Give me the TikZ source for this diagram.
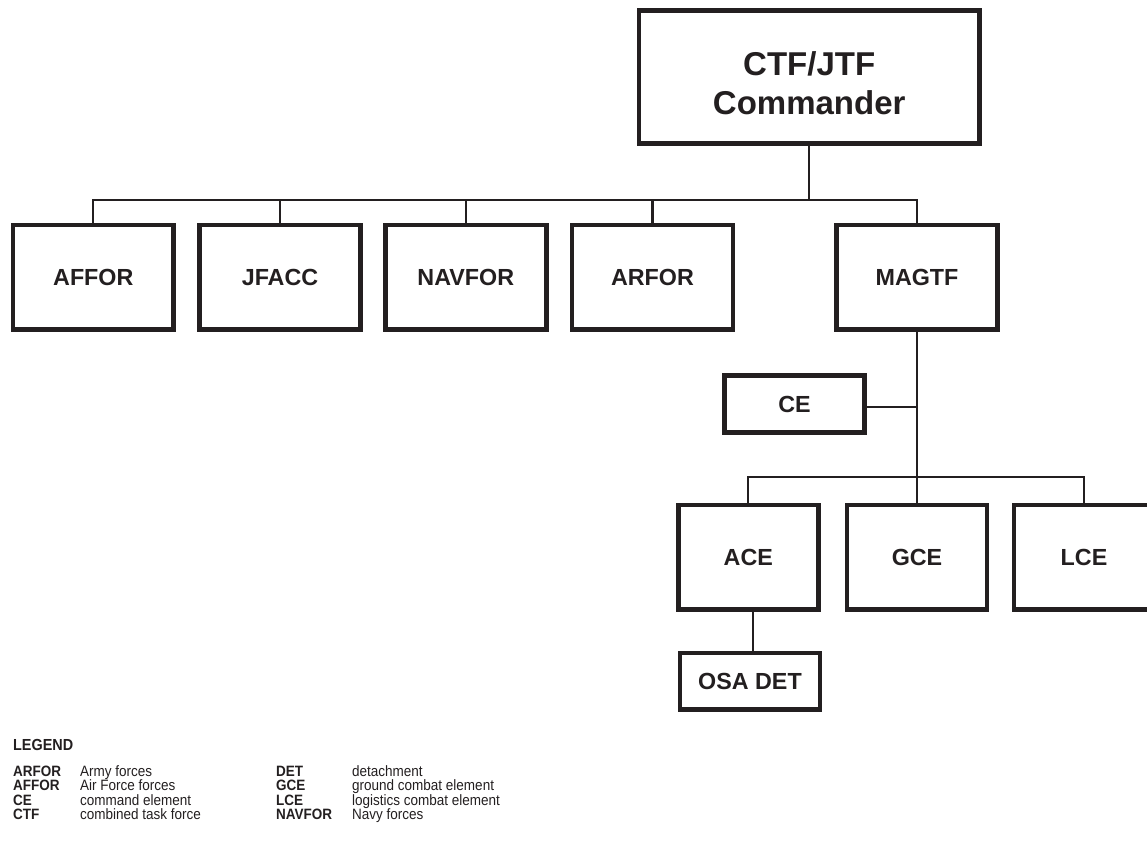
\documentclass[tikz,border=0pt]{standalone}
\usepackage{fontspec}
\setmainfont{Liberation Sans}
\newfontfamily\legendfont[FakeStretch=0.9]{Liberation Sans}
\usetikzlibrary{calc}
\definecolor{ink}{RGB}{35,31,32}
\begin{document}
\begin{tikzpicture}[x=1pt,y=-1pt,
  orgbox/.style={draw=ink, line width=4.7pt, fill=white, inner sep=0pt,
    text=ink, font=\fontsize{23.3}{26}\selectfont\bfseries},
  bigbox/.style={orgbox, minimum width=160.8pt, minimum height=104.6pt},
  smallbox/.style={orgbox, minimum width=140pt, minimum height=104.3pt},
  flatbox/.style={orgbox, minimum width=139.8pt, minimum height=56.8pt},
  conn/.style={draw=ink, line width=2.2pt},
  lgkey/.style={anchor=base west, inner sep=0pt, text=ink,
    font=\legendfont\fontsize{15}{16}\selectfont\bfseries},
  lgtext/.style={anchor=base west, inner sep=0pt, text=ink,
    font=\legendfont\fontsize{15}{16}\selectfont}]
\useasboundingbox (0,0) rectangle (1147,848);

% commander
\node[orgbox, minimum width=340.3pt, minimum height=132.7pt] (cmd) at (809.2,77) {};
\node[text=ink, align=center, inner sep=0pt,
  font=\fontsize{33}{39}\selectfont\bfseries] (cmdtext) at (809.2,83) {CTF/JTF\\Commander};

% component commands
\node[bigbox] (affor)  at (93.3,277.4)  {AFFOR};
\node[bigbox] (jfacc)  at (280,277.4)   {JFACC};
\node[bigbox] (navfor) at (465.8,277.4) {NAVFOR};
\node[bigbox] (arfor)  at (652.5,277.4) {ARFOR};
\node[bigbox] (magtf)  at (917,277.4)   {MAGTF};

% MAGTF elements
\node[flatbox] (ce)  at (794.5,404.2) {CE};
\node[smallbox] (ace) at (748.3,557.2) {ACE};
\node[smallbox] (gce) at (917,557.2)   {GCE};
\node[smallbox] (lce) at (1084,557.2)  {LCE};
\node[flatbox, minimum height=56.3pt] (osa) at (750,681.2) {OSA DET};

% top-level bus
\coordinate (bus) at (809.2,200);
\draw[conn] (cmd.south) -- (bus);
\draw[conn] (affor.north) |- (bus) -| (magtf.north);
\draw[conn] (jfacc.north) -- (jfacc.north |- bus);
\draw[conn] (navfor.north) -- (navfor.north |- bus);
\draw[conn] (arfor.north) -- (arfor.north |- bus);

% MAGTF branch
\coordinate (sub) at (917,477.3);
\draw[conn] (magtf.south) -- (gce.north);
\draw[conn] ([yshift=-2.5pt]ce.east) -- ([yshift=-2.5pt]ce.east -| magtf.south);
\draw[conn] (ace.north) |- (sub) -| (lce.north);
\draw[conn] ([xshift=3pt]osa.north) -- ([xshift=3pt]osa.north |- ace.south);

% legend
\node[lgkey, font=\legendfont\fontsize{16}{17}\selectfont\bfseries] (lgtitle) at (13,750.5) {LEGEND};
\node[lgkey]  (k1) at (13,776.5) {ARFOR};  \node[lgtext] (d1) at (80,776.5) {Army forces};
\node[lgkey]  (k2) at (13,790.8) {AFFOR};  \node[lgtext] (d2) at (80,790.8) {Air Force forces};
\node[lgkey]  (k3) at (13,805.1) {CE};     \node[lgtext] (d3) at (80,805.1) {command element};
\node[lgkey]  (k4) at (13,819.4) {CTF};    \node[lgtext] (d4) at (80,819.4) {combined task force};
\node[lgkey]  (k5) at (276,776.5) {DET};    \node[lgtext] (d5) at (352,776.5) {detachment};
\node[lgkey]  (k6) at (276,790.8) {GCE};    \node[lgtext] (d6) at (352,790.8) {ground combat element};
\node[lgkey]  (k7) at (276,805.1) {LCE};    \node[lgtext] (d7) at (352,805.1) {logistics combat element};
\node[lgkey]  (k8) at (276,819.4) {NAVFOR}; \node[lgtext] (d8) at (352,819.4) {Navy forces};
\end{tikzpicture}
\end{document}
